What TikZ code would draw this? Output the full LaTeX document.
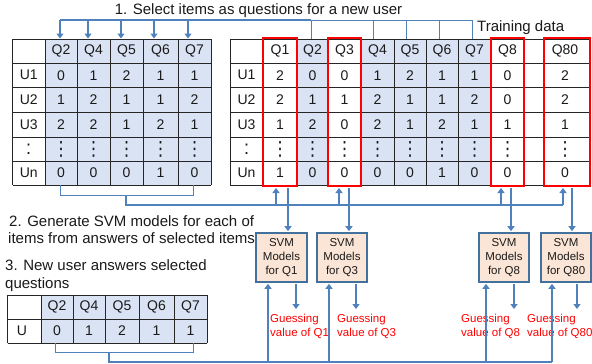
\documentclass[tikz,border=0pt]{standalone}
\usepackage{fontspec}
\setmainfont{Liberation Sans}
\newfontfamily\dejavu{DejaVu Sans}
\usetikzlibrary{arrows.meta}
\definecolor{cellblue}{HTML}{DAE3F3}
\definecolor{lnblue}{HTML}{4F81BD}
\definecolor{peach}{HTML}{FBE5D6}
\definecolor{boxblue}{HTML}{41719C}
\definecolor{txt}{HTML}{1A1A1A}
\newcommand\threedts{\scalebox{1}[1.15]{\fontsize{17}{19}\selectfont\dejavu ⋮}}
\newcommand\twodts{\scalebox{1}[1.1]{\fontsize{18}{20}\selectfont :}}
\begin{document}
\begin{tikzpicture}[x=1pt,y=-1pt,
  grid/.style={draw=black!85, line width=0.8pt},
  cell/.style={inner sep=0pt, font=\fontsize{14}{16}\selectfont, text=txt},
  brk/.style={draw=lnblue, line width=1pt},
  hbar/.style={draw=lnblue, line width=1.5pt},
  arr/.style={draw=lnblue, line width=1.8pt, -{Triangle[length=5pt,width=7pt]}},
  redbox/.style={draw=red, line width=2pt, inner sep=0pt},
  svm/.style={draw=boxblue, fill=peach, line width=1.6pt, inner sep=0pt, minimum height=49pt, align=center, font=\fontsize{11.5}{13.7}\selectfont, text=txt},
  guess/.style={inner sep=0pt, anchor=west, align=left, text=red, font=\fontsize{11.5}{14}\selectfont},
  lbl/.style={inner sep=0pt, anchor=base west, font=\fontsize{15}{18}\selectfont, text=txt}]
\fill[white] (0,0) rectangle (592,364);
\useasboundingbox (0,0) rectangle (592,364);

% ---------- Table A (selected items) ----------
\fill[cellblue] (45,39) rectangle (211,185);
\foreach \y in {39,63,87.5,112,137,161,185} \draw[grid] (12.5,\y) -- (211,\y);
\foreach \x in {12.5,45,77,110,143,178,211} \draw[grid] (\x,39) -- (\x,185);
\def\xsA{{28.75,61,93.5,126.5,160.5,194.5}}
\foreach \y/\row [count=\r] in {51/{{},Q2,Q4,Q5,Q6,Q7},75.25/{U1,0,1,2,1,1},99.75/{U2,1,2,1,1,2},124.5/{U3,2,2,1,2,1},173/{Un,0,0,0,1,0}}
  \foreach \t [count=\c] in \row {
    \pgfmathsetmacro\xx{\xsA[\c-1]}
    \node[cell] (A-\r-\c) at (\xx,\y) {\t};
  }
\node[cell] (A-d-0) at (28.75,149) {\twodts};
\foreach \x [count=\c] in {61,93.5,126.5,160.5,194.5} \node[cell] (A-d-\c) at (\x,149) {\threedts};

% ---------- Table B (training data) ----------
\fill[cellblue] (297,39) rectangle (328,185);
\fill[cellblue] (361,39) rectangle (491,185);
\foreach \y in {39,63,87.5,112,137,161,185} \draw[grid] (230,\y) -- (590,\y);
\foreach \x in {230,263,297,328,361,394,426,458,491,524,590} \draw[grid] (\x,39) -- (\x,185);
\def\xsB{{246.5,280,312.5,344.5,377.5,410,442,474.5,507.5,565}}
\foreach \y/\row [count=\r] in {51/{{},Q1,Q2,Q3,Q4,Q5,Q6,Q7,Q8,Q80},75.25/{U1,2,0,0,1,2,1,1,0,2},99.75/{U2,2,1,1,2,1,1,2,0,2},124.5/{U3,1,2,0,2,1,2,1,1,1},173/{Un,1,0,0,0,0,1,0,0,0}}
  \foreach \t [count=\c] in \row {
    \pgfmathsetmacro\xx{\xsB[\c-1]}
    \node[cell] (B-\r-\c) at (\xx,\y) {\t};
  }
\node[cell] (B-d-0) at (246.5,149) {\twodts};
\foreach \x [count=\c] in {280,312.5,344.5,377.5,410,442,474.5,507.5,565} \node[cell] (B-d-\c) at (\x,149) {\threedts};

% red boxes
\node[redbox, minimum width=34pt, minimum height=148pt] (rq1) at (280,112) {};
\node[redbox, minimum width=33pt, minimum height=148pt] (rq3) at (344.5,112) {};
\node[redbox, minimum width=33pt, minimum height=148pt] (rq8) at (507.5,112) {};
\node[redbox, minimum width=46pt, minimum height=148pt] (rq80) at (567,112) {};

% ---------- Table C (new user) ----------
\fill[cellblue] (41,295) rectangle (207,343);
\foreach \y in {295,319,343} \draw[grid] (7.5,\y) -- (207,\y);
\foreach \x in {7.5,41,73,105,139,174,207} \draw[grid] (\x,295) -- (\x,343);
\def\xsC{{22,57,89,122,156.5,190.5}}
\foreach \y/\row [count=\r] in {307/{{},Q2,Q4,Q5,Q6,Q7},331/{U,0,1,2,1,1}}
  \foreach \t [count=\c] in \row {
    \pgfmathsetmacro\xx{\xsC[\c-1]}
    \node[cell] (C-\r-\c) at (\xx,\y) {\t};
  }

% ---------- texts ----------
\node[lbl, anchor=base] (t1) at (258.5,14) {1. Select items as questions for a new user};
\node[lbl] (t2) at (477,31.7) {Training data};
\node[lbl] (t3) at (9,226) {2. Generate SVM models for each of};
\node[lbl] (t4) at (8,243.5) {items from answers of selected items};
\node[lbl] (t5) at (5,270.7) {3. New user answers selected};
\node[lbl] (t6) at (5,288.3) {questions};

% ---------- SVM boxes ----------
\node[svm, minimum width=51pt] (svm1) at (281.5,257.5) {SVM\\Models\\for Q1};
\node[svm, minimum width=50pt] (svm3) at (342,257.5) {SVM\\Models\\for Q3};
\node[svm, minimum width=50pt] (svm8) at (504,257.5) {SVM\\Models\\for Q8};
\node[svm, minimum width=50pt] (svm80) at (566,257.5) {SVM\\Models\\for Q80};

\node[guess] (g1) at (270,326) {Guessing\\value of Q1};
\node[guess] (g3) at (337,326) {Guessing\\value of Q3};
\node[guess] (g8) at (461,326) {Guessing\\value of Q8};
\node[guess] (g80) at (527,326) {Guessing\\value of Q80};

% ---------- connectors ----------
% step 1: from training data to selected table
\draw[hbar] (60,20) -- (311,20);
\draw[brk] (311,20) -- (472,20);
\foreach \x in {311,373,406,439,472} \draw[brk] (\x,20) -- (\x,39);
\foreach \x in {60,88,121,154,188} \draw[arr] (\x,20) -- (\x,38.5);

% step 2: selected answers into models
\draw[brk] (60,185) -- (60,195) -- (193,195) -- (193,185);
\draw[hbar] (126,195) -- (126,205) -- (563,205);
\coordinate (u1) at (276,205); \coordinate (u3) at (339,205);
\coordinate (u8) at (501,205); \coordinate (u80) at (563,205);
\foreach \n in {1,3,8,80} \draw[arr] (u\n) -- ([yshift=-1pt]u\n |- rq\n.south);
\coordinate (d1) at (288,0); \coordinate (d3) at (349,0);
\coordinate (d8) at (511,0); \coordinate (d80) at (572,0);
\foreach \n in {1,3,8,80} \draw[arr] ([yshift=-1pt]d\n |- rq\n.south) -- ([yshift=1pt]d\n |- svm\n.north);

% outputs
\coordinate (o1) at (296,0); \coordinate (o3) at (356,0);
\coordinate (o8) at (514,0); \coordinate (o80) at (577,0);
\foreach \n in {1,3,8,80} \draw[arr] ([yshift=-1pt]o\n |- svm\n.south) -- (o\n |- 0,309);

% step 3: new user answers into models
\draw[brk] (55,343) -- (55,352) -- (193,352) -- (193,343);
\draw[lnblue, line width=1.8pt] (109,352) -- (109,362) -- (552,362);
\coordinate (p1) at (268,362); \coordinate (p3) at (329,362);
\coordinate (p8) at (486,362); \coordinate (p80) at (552,362);
\foreach \n in {1,3,8,80} \draw[arr] (p\n) -- ([yshift=-1pt]p\n |- svm\n.south);
\end{tikzpicture}
\end{document}
